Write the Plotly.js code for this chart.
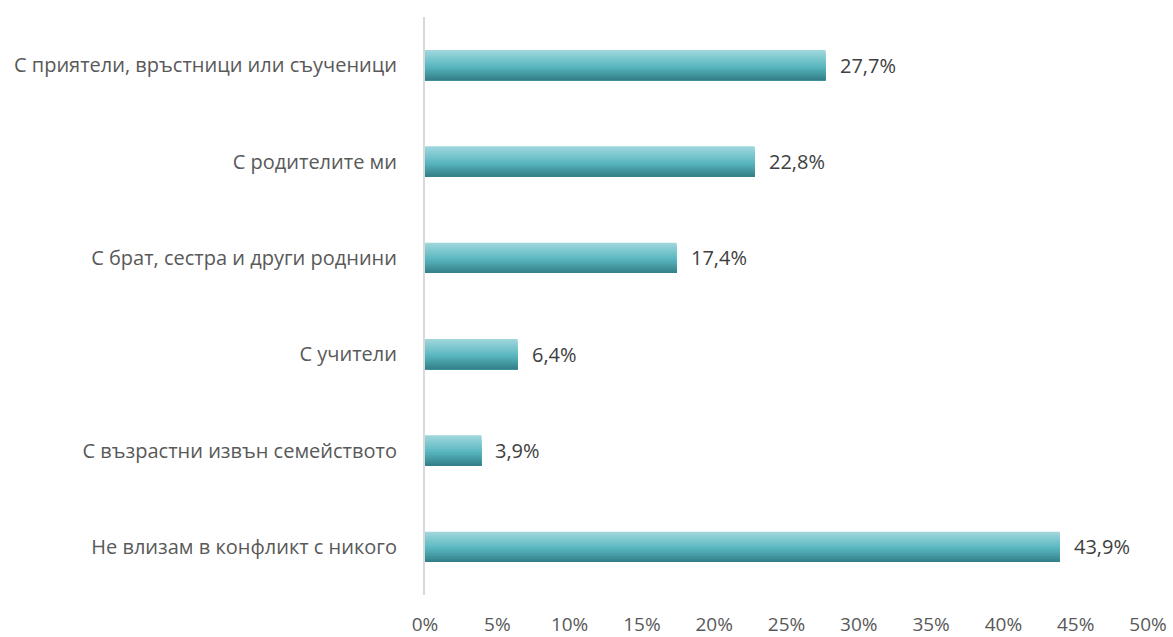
<!DOCTYPE html>
<html>
<head>
<meta charset="utf-8">
<script src="https://cdn.plot.ly/plotly-3.0.1.min.js"></script>
<style>html,body{margin:0;padding:0;background:#fff;}#chart{width:1173px;height:637px;}</style>
</head>
<body>
<div id="chart"></div>
<script>
const categories = [
  "С приятели, връстници или съученици",
  "С родителите ми",
  "С брат, сестра и други роднини",
  "С учители",
  "С възрастни извън семейството",
  "Не влизам в конфликт с никого"
];
const values = [27.7, 22.8, 17.4, 6.4, 3.9, 43.9];
const tickVals = [0, 5, 10, 15, 20, 25, 30, 35, 40, 45, 50];
const tickText = ["0%", "5%", "10%", "15%", "20%", "25%", "30%", "35%", "40%", "45%", "50%"];

const font = "'Open Sans', 'Noto Sans', sans-serif";
const barWidth = 0.315;
const nStripes = 20;
const stops = [[0, [162, 215, 221]], [0.55, [88, 182, 192]], [1, [50, 126, 134]]];
function colorAt(t) {
  for (let i = 0; i < stops.length - 1; i++) {
    const [a, ca] = stops[i], [b, cb] = stops[i + 1];
    if (t <= b) {
      const f = (t - a) / (b - a);
      const c = ca.map((v, k) => Math.round(v + (cb[k] - v) * f));
      return `rgb(${c[0]},${c[1]},${c[2]})`;
    }
  }
  return 'rgb(50,126,134)';
}
const traces = [];
const sw = barWidth / nStripes;
for (let i = 0; i < nStripes; i++) {
  const t = (i + 0.5) / nStripes;
  traces.push({
    type: 'bar',
    orientation: 'h',
    x: values,
    y: categories,
    width: barWidth - i * sw,
    offset: -barWidth / 2 + i * sw,
    marker: { color: colorAt(t), line: { width: 0 } },
    hoverinfo: 'skip',
    showlegend: false
  });
}
const annotations = categories.map((c, i) => ({
  x: values[i], y: c, xref: 'x', yref: 'y',
  text: values[i].toFixed(1).replace('.', ',') + '%',
  showarrow: false, xanchor: 'left', xshift: 12,
  font: { family: font, size: 20, color: '#404040' }
}));
const layout = {
  width: 1173, height: 637,
  margin: { l: 425, r: 25, t: 17, b: 42 },
  paper_bgcolor: '#fff', plot_bgcolor: '#fff',
  barmode: 'overlay',
  showlegend: false,
  xaxis: {
    range: [0, 50], tickvals: tickVals, ticktext: tickText,
    showgrid: false, zeroline: false, showline: false, ticks: '',
    ticklabelstandoff: 16,
    tickfont: { family: font, size: 19, color: '#595959' }
  },
  yaxis: {
    autorange: 'reversed', type: 'category',
    showgrid: false, zeroline: false, showline: true,
    linecolor: '#d9d9d9', linewidth: 2, ticks: '',
    ticklabelstandoff: 22,
    tickfont: { family: font, size: 20, color: '#595959' }
  },
  annotations: annotations
};
Plotly.newPlot('chart', traces, layout, { displayModeBar: false, staticPlot: true });
</script>
</body>
</html>
